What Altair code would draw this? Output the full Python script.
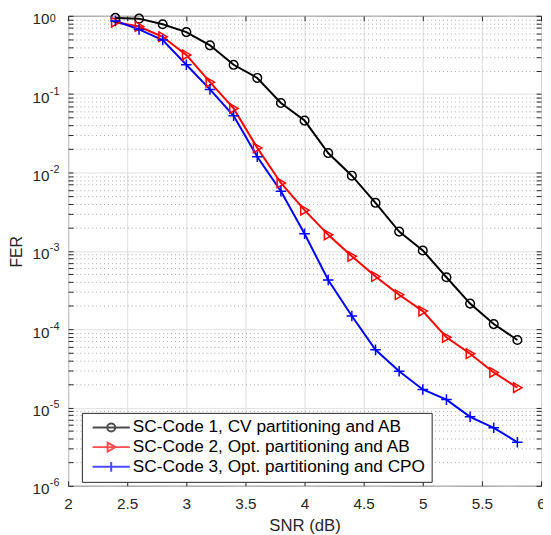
import altair as alt
import pandas as pd

# ---------------- data ----------------
snr = [2.4, 2.6, 2.8, 3.0, 3.2, 3.4, 3.6, 3.8, 4.0, 4.2, 4.4, 4.6, 4.8, 5.0, 5.2, 5.4, 5.6, 5.8]
fer_code1 = [0.94, 0.92, 0.78, 0.62, 0.42, 0.237, 0.161, 0.077, 0.046, 0.0177, 0.0091, 0.0041,
             0.00176, 0.00101, 0.00046, 0.000212, 0.000116, 0.0000727]
fer_code2 = [0.83, 0.73, 0.54, 0.317, 0.142, 0.0657, 0.0206, 0.00734, 0.0033, 0.0016, 0.00085,
             0.00047, 0.000275, 0.00017, 0.0000786, 0.0000485, 0.000028, 0.0000179]
fer_code3 = [0.86, 0.67, 0.49, 0.237, 0.115, 0.053, 0.0159, 0.00576, 0.00165, 0.000425, 0.000147,
             0.0000544, 0.000029, 0.000017, 0.0000126, 0.0000076, 0.0000055, 0.0000036]
series_names = [
    "SC-Code 1, CV partitioning and AB",
    "SC-Code 2, Opt. partitioning and AB",
    "SC-Code 3, Opt. partitioning and CPO",
]
series_colors = ["#000000", "#ff0000", "#0000ff"]
x_ticks = [2, 2.5, 3, 3.5, 4, 4.5, 5, 5.5, 6]
y_major = [1e-6, 1e-5, 1e-4, 1e-3, 1e-2, 1e-1, 1.0]
y_minor = [float(f"{k}e{e}") for e in range(-6, 0) for k in range(2, 10)]

rows = []
for name, vals in zip(series_names, [fer_code1, fer_code2, fer_code3]):
    for s, f in zip(snr, vals):
        rows.append({"series": name, "snr": s, "fer": f})
df = pd.DataFrame(rows)

# ---------------- style ----------------
W, H = 480, 477
FONT = "Liberation Sans"
MAJ = "abs(log(datum.value)/LN10 - round(log(datum.value)/LN10)) < 0.001"

marker_paths = [
    "M0.9,0A0.9,0.9,0,1,1,-0.9,0A0.9,0.9,0,1,1,0.9,0Z",
    "M-0.8,-1L0.95,0L-0.8,1Z",
    "M-1.1,0L1.1,0M0,-1.1L0,1.1",
]
legend_paths = [
    "M-4.2,0L4.2,0M0.9,0A0.9,0.9,0,1,1,-0.9,0A0.9,0.9,0,1,1,0.9,0Z",
    "M-4.2,0L4.2,0M-0.8,-1L0.95,0L-0.8,1Z",
    "M-4.2,0L4.2,0M0,-1.1L0,1.1",
]

xscale = alt.Scale(domain=[2, 6], nice=False, zero=False)
yscale = alt.Scale(type="log", domain=[1e-6, 1], nice=False)


def cscale():
    return alt.Scale(domain=series_names, range=series_colors)


base = alt.Chart(df)
empty = alt.Chart(df).transform_filter("datum.snr < 0")

# main axes: labels, titles, grid
lines = base.mark_line(strokeWidth=2).encode(
    x=alt.X("snr:Q", scale=xscale, axis=alt.Axis(
        orient="bottom", values=x_ticks, format="~g", title="SNR (dB)",
        ticks=False, tickSize=0, domain=False, labelFlush=False, labelOverlap=False,
        labelPadding=11, labelFontSize=15.5, labelFont=FONT, labelColor="#262626",
        titleFont=FONT, titleFontSize=17, titleFontWeight="normal", titleColor="#262626",
        titleX=W / 2, titleY=40, titleBaseline="middle", titleAlign="center",
        grid=True, gridColor="#dcdcdc", gridWidth=1)),
    y=alt.Y("fer:Q", scale=yscale, axis=alt.Axis(
        orient="left", values=y_major + y_minor, labelExpr=f"({MAJ}) ? '10' : ''",
        title="FER", ticks=False, tickSize=0, domain=False, labelOverlap=False,
        labelFlush=False, labelPadding=19.5, labelBaseline="middle", labelOffset=3,
        labelFontSize=15.5, labelFont=FONT, labelColor="#262626",
        titleFont=FONT, titleFontSize=16, titleFontWeight="normal", titleColor="#262626",
        titleX=-52, titleY=239, titleAngle=-90, titleAlign="center", titleBaseline="middle",
        grid=True,
        gridColor={"condition": {"test": MAJ, "value": "#dcdcdc"}, "value": "#a8a8a8"},
        gridDash={"condition": {"test": MAJ, "value": [1, 0]}, "value": [1, 3]},
        gridWidth=1)),
    color=alt.Color("series:N", scale=cscale(), legend=None),
)

# markers + inward ticks at bottom and left edges
points = base.mark_point(filled=False, strokeWidth=1.5, size=95, opacity=1).encode(
    x=alt.X("snr:Q", scale=xscale, axis=alt.Axis(
        orient="top", offset=-H, values=x_ticks, labels=False, ticks=True, tickSize=5,
        tickColor="#262626", domain=False, grid=False, title=None)),
    y=alt.Y("fer:Q", scale=yscale, axis=alt.Axis(
        orient="right", offset=-W, values=y_major + y_minor, labels=False, ticks=True,
        tickSize=5, tickColor="#262626", domain=False, grid=False, title=None)),
    color=alt.Color("series:N", scale=cscale(), legend=None),
    shape=alt.Shape("series:N", scale=alt.Scale(domain=series_names, range=marker_paths), legend=None),
)

legend_def = dict(
    title=None, orient="none", legendX=14, legendY=403,
    strokeColor="#262626", fillColor="white", padding=6,
    labelFont=FONT, labelFontSize=17.5, labelColor="#000000", labelLimit=500,
    labelOffset=13.2, symbolOffset=15, rowPadding=1, symbolSize=81, symbolStrokeWidth=2,
)

# legend carrier (no marks) + inward ticks at top and right edges
legend_layer = empty.mark_point(filled=False, size=81, strokeWidth=2).encode(
    x=alt.X("snr:Q", scale=xscale, axis=alt.Axis(
        orient="bottom", offset=-H, values=x_ticks, labels=False, ticks=True, tickSize=5,
        tickColor="#262626", domain=False, grid=False, title=None)),
    y=alt.Y("fer:Q", scale=yscale, axis=alt.Axis(
        orient="left", offset=-W, values=y_major + y_minor, labels=False, ticks=True,
        tickSize=5, tickColor="#262626", domain=False, grid=False, title=None)),
    color=alt.Color("series:N", scale=cscale(), legend=alt.Legend(**legend_def)),
    shape=alt.Shape("series:N", scale=alt.Scale(domain=series_names, range=legend_paths),
                    legend=alt.Legend(**legend_def)),
)

# exponent labels of the y axis
exp_layer = empty.mark_point(opacity=0).encode(
    x=alt.X("snr:Q", scale=xscale, axis=None),
    y=alt.Y("fer:Q", scale=yscale, axis=alt.Axis(
        orient="left", values=y_major, labelExpr="'' + round(log(datum.value)/LN10)",
        ticks=False, tickSize=0, domain=False, grid=False, title=None,
        labelOverlap=False, labelFlush=False, labelAlign="left", labelPadding=19,
        labelBaseline={"condition": {"test": "datum.value > 0.5", "value": "top"}, "value": "middle"},
        labelOffset=-3, labelFontSize=11, labelFont=FONT,
        labelColor="#262626")),
)

chart = alt.layer(lines, points, legend_layer, exp_layer).resolve_scale(
    color="independent", shape="independent"
).resolve_axis(
    x="independent", y="independent"
).properties(
    width=W, height=H,
    padding={"left": 61, "top": 4, "right": 2, "bottom": 46},
    autosize=alt.AutoSizeParams(type="none"),
).configure_view(
    stroke="#262626", strokeWidth=1
)

chart.save("out.html", embed_options={"renderer": "svg", "actions": False})
